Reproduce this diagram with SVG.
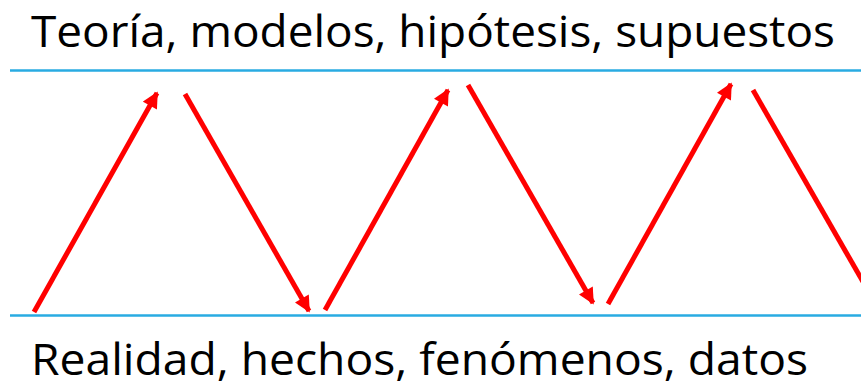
<svg xmlns="http://www.w3.org/2000/svg" width="861" height="387" viewBox="0 0 861 387">
<style>
.lbl{font-family:"Open Sans","Liberation Sans",sans-serif;font-size:43px;fill:#000}
.rule{stroke:#29ABE2;stroke-width:2.5}
.arr{stroke:#FF0000;stroke-width:5;fill:none}
</style>
<defs>
<marker id="ah" viewBox="0 0 10 10" refX="9" refY="5" markerWidth="3.4" markerHeight="3.2" orient="auto" markerUnits="strokeWidth">
<path d="M0,0 L10,5 L0,10 z" fill="#FF0000"/>
</marker>
</defs>
<rect width="861" height="387" fill="#fff"/>
<g id="top-level">
<line class="rule" x1="10" y1="70.5" x2="861" y2="70.5"/>
<text class="lbl" x="31" y="46.5" textLength="804" lengthAdjust="spacingAndGlyphs">Teoría, modelos, hipótesis, supuestos</text>
</g>
<g id="bottom-level">
<line class="rule" x1="10" y1="315.5" x2="861" y2="315.5"/>
<text class="lbl" x="31" y="374.5" textLength="777" lengthAdjust="spacingAndGlyphs">Realidad, hechos, fenómenos, datos</text>
</g>
<g id="connectors">
<line class="arr" x1="34" y1="312" x2="157" y2="93" marker-end="url(#ah)"/>
<line class="arr" x1="185" y1="94" x2="309" y2="311" marker-end="url(#ah)"/>
<line class="arr" x1="325" y1="310" x2="448" y2="90" marker-end="url(#ah)"/>
<line class="arr" x1="468" y1="85" x2="593" y2="303" marker-end="url(#ah)"/>
<line class="arr" x1="608" y1="304" x2="731" y2="84" marker-end="url(#ah)"/>
<line class="arr" x1="753" y1="90" x2="870" y2="294"/>
</g>
</svg>
